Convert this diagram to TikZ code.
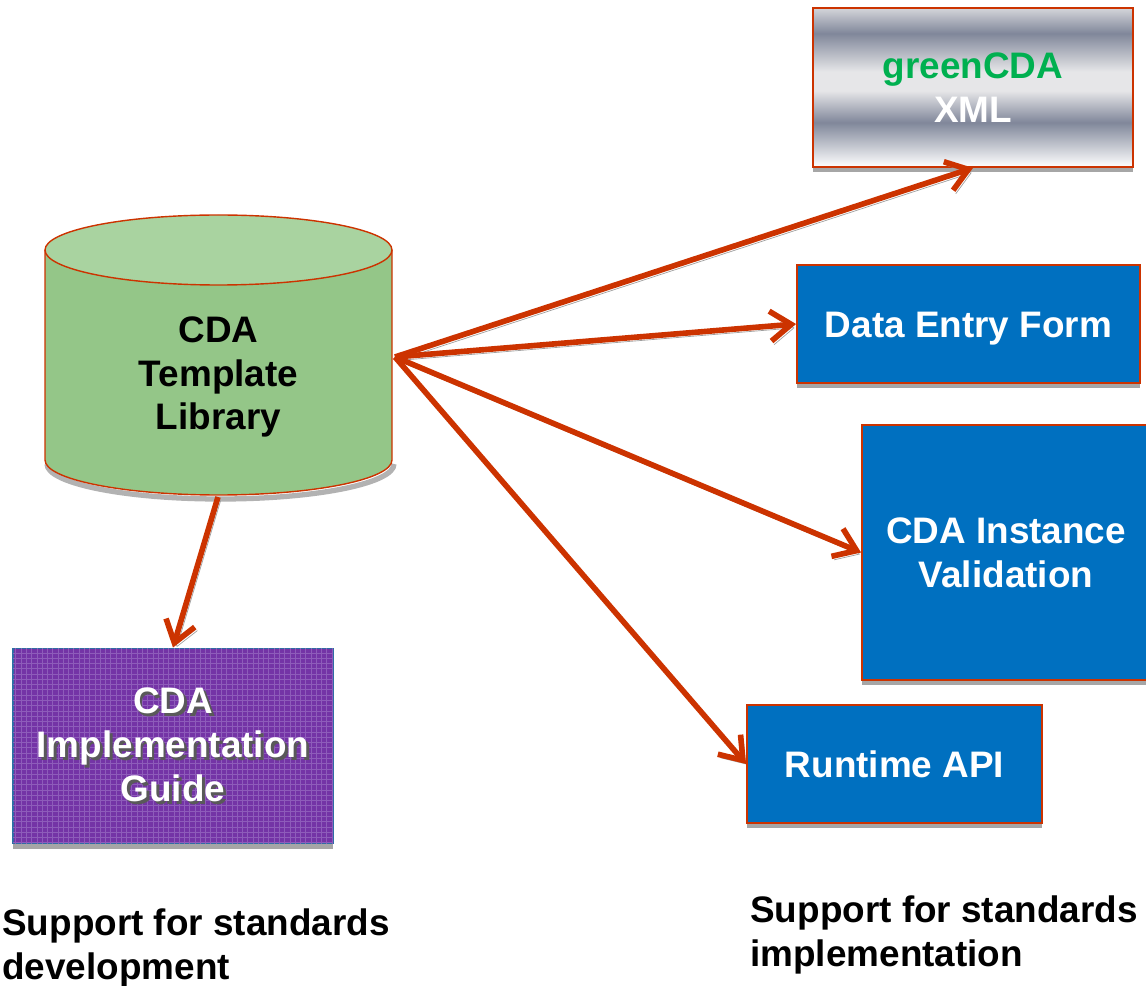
\documentclass[tikz,border=0pt]{standalone}
\usepackage{fontspec}
\setmainfont{Liberation Sans}
\usepackage{tikz}
\usetikzlibrary{arrows.meta}
\usetikzlibrary{shadows}
\usetikzlibrary{patterns}
\tikzset{>={Straight Barb[length=0.42cm,width=0.6cm]}}

\definecolor{arrowred}{HTML}{CC3300}
\definecolor{boxblue}{HTML}{0070C0}
\definecolor{cylbody}{HTML}{94C688}
\definecolor{cyltop}{HTML}{A9D3A0}
\definecolor{guidepurple}{HTML}{7434A6}
\definecolor{guidegrid}{HTML}{8E5CBA}
\definecolor{guideline}{HTML}{2F6EA5}
\definecolor{cdagreen}{HTML}{00B050}
\definecolor{silverdark}{HTML}{80879A}
\definecolor{silverlight}{HTML}{E6E6E8}
\definecolor{silvertop}{HTML}{D4D5DA}
% the shading is fitted to the box width, so only 25bp..75bp is seen
\pgfdeclareverticalshading{silver}{100bp}{color(0bp)=(white); color(25bp)=(white); color(39bp)=(silverdark); color(49bp)=(silverlight); color(55bp)=(silverlight); color(67bp)=(silverdark); color(75bp)=(silvertop); color(100bp)=(silvertop)}
\newcommand{\shtext}[1]{\makebox[0pt][l]{\hspace{1.6pt}\raisebox{-1.6pt}{\color{black!65}#1}}#1}

\begin{document}
\begin{tikzpicture}[x=0.02cm,y=0.02cm,
		every node/.style={font=\bfseries\fontsize{21}{25}\selectfont,align=center,inner sep=0pt},
		box/.style={draw=arrowred,line width=1.1pt,fill=boxblue,text=white,
			drop shadow={shadow xshift=0pt,shadow yshift=-3pt,fill=gray!70,opacity=1}},
		link/.style={->,draw=arrowred,line width=3.2pt,
			preaction={draw=gray!75,transform canvas={shift={(1.5pt,-2pt)}}}}]
			\useasboundingbox (0,0) rectangle (1146,985);
%-----The template library (cylinder)-----
			\draw[gray!60,line width=3pt] (47,521) arc[start angle=180,end angle=360,x radius=173.5,y radius=35];
			\filldraw[fill=cylbody,draw=arrowred,line width=0.8pt] (45,735) -- (45,525) arc[start angle=180,end angle=360,x radius=173.5,y radius=35] -- (392,735);
			\filldraw[fill=cyltop,draw=arrowred,line width=0.8pt] (218.5,735) ellipse[x radius=173.5,y radius=35];
			\node (lib) at (218.5,608) {CDA\\Template\\Library};
			\coordinate (hub) at (395,628);
			\coordinate (libbase) at (218,488);
%-----The products-----
			\node[box,shading=silver,minimum width=6.4cm,minimum height=3.18cm] (xml) at (973,897.5) {{\color{cdagreen}greenCDA}\\XML};
			\node[box,minimum width=6.86cm,minimum height=2.36cm] (form) at (968.5,661) {\smash{\raisebox{-7.5pt}{Data Entry Form}}};
			\node[box,minimum width=5.76cm,minimum height=5.1cm] (valid) at (1006,432.5) {CDA Instance\\Validation};
			\node[box,minimum width=5.9cm,minimum height=2.36cm] (api) at (894.5,221) {Runtime API};
			\node[box,draw=guideline,fill=guidepurple,postaction={pattern=grid,pattern color=guidegrid},minimum width=6.4cm,minimum height=3.9cm] (guide) at (173,239) {\shtext{CDA}\\\shtext{Implementation}\\\shtext{Guide}};
%-----Draw the arrows here-----
			\draw[link] (hub) -- (xml.south);
			\draw[link] (hub) -- (form.west);
			\draw[link] (hub) -- (valid.west);
			\draw[link] (hub) -- (api.west);
			\draw[link] (libbase) -- (guide.north);
%-----Captions-----
			\node[anchor=west,align=left] (devnote) at (2,37) {Support for standards\\development};
			\node[anchor=west,align=left] (implnote) at (750,50) {Support for standards\\implementation};
		\end{tikzpicture}
\end{document}
